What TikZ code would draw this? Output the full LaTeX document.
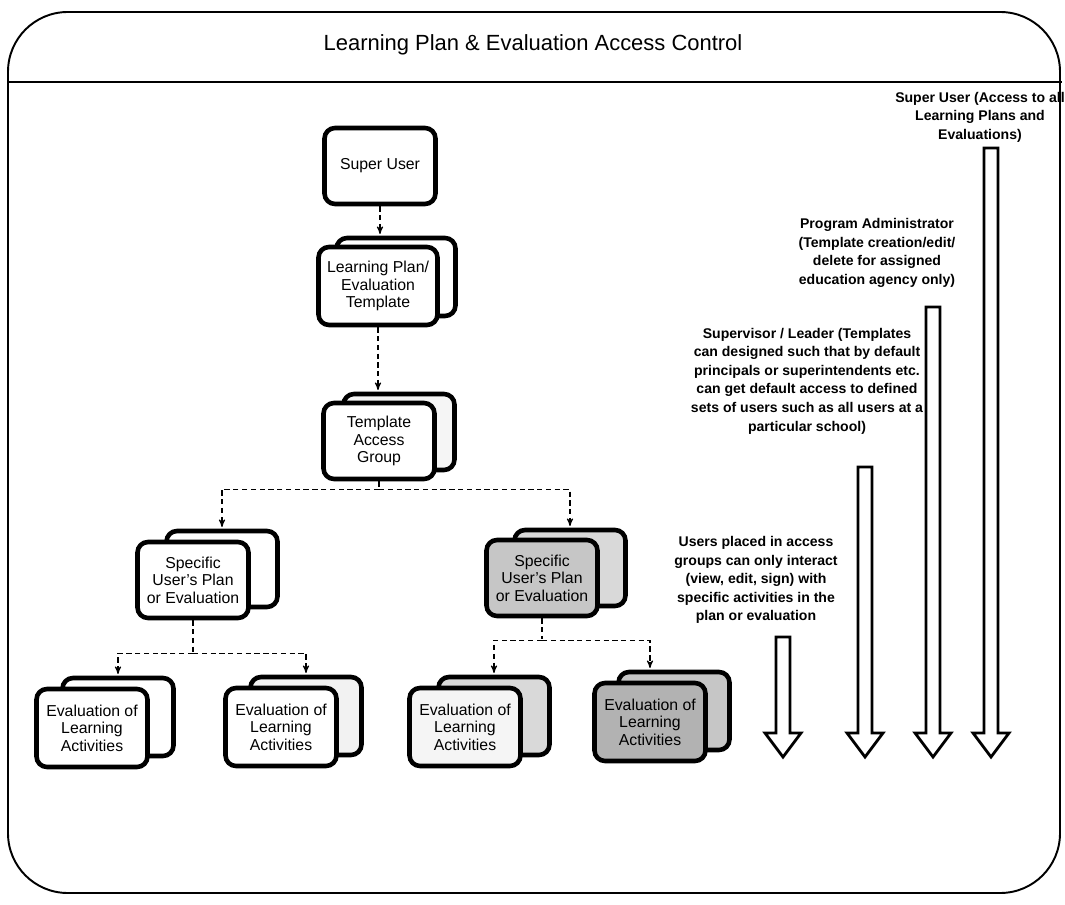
\documentclass[tikz,border=0pt]{standalone}
\usepackage{fontspec}
\setmainfont{Liberation Sans}
\usetikzlibrary{arrows}

\begin{document}
\begin{tikzpicture}[x=0.02cm,y=-0.02cm,>=stealth',
	card/.style={draw,line width=2.6pt,rounded corners=6pt,fill=white,
		minimum width=2.22cm,minimum height=1.52cm,align=center,
		font=\fontsize{9}{10}\selectfont},
	link/.style={densely dashed,line width=0.6pt,shorten >=1pt},
	note/.style={align=center,font=\fontsize{8}{10.6}\selectfont\bfseries},
	bigarrow/.style={draw,line width=1.6pt,fill=white}]
	\useasboundingbox (0,0) rectangle (1065,905);

	% frame and title
	\draw[line width=1.1pt,rounded corners=34pt] (8,12) rectangle (1060,893);
	\draw[line width=1.1pt] (8,82) -- (1062,82);
	\node[font=\fontsize{12.5}{14}\selectfont] (title) at (533,45) {Learning Plan \& Evaluation Access Control};

	\node[card] (super) at (380,166) {Super User};

	\node[card,minimum width=2.38cm,minimum height=1.56cm] (tplb) at (396,277) {};
	\node[card,minimum width=2.38cm,minimum height=1.56cm] (tpl) at (378,286) {Learning Plan/\\Evaluation\\Template};

	\node[card,fill=gray!8] (grpb) at (399,432) {};
	\node[card] (grp) at (379,441) {Template\\Access\\Group};

	\node[card] (specab) at (222,569) {};
	\node[card] (speca) at (193,580) {Specific\\User's Plan\\or Evaluation};

	\node[card,fill=gray!30] (specbb) at (570,568) {};
	\node[card,fill=gray!45] (specb) at (542,578) {Specific\\User's Plan\\or Evaluation};

	\node[card,minimum height=1.56cm] (evalab) at (118,717) {};
	\node[card,minimum height=1.56cm] (evala) at (92,728) {Evaluation of\\Learning\\Activities};

	\node[card,minimum height=1.56cm,fill=gray!10] (evalbb) at (306,716) {};
	\node[card,minimum height=1.56cm] (evalb) at (281,727) {Evaluation of\\Learning\\Activities};

	\node[card,minimum height=1.56cm,fill=gray!30] (evalcb) at (494,716) {};
	\node[card,minimum height=1.56cm,fill=gray!8] (evalc) at (465,727) {Evaluation of\\Learning\\Activities};

	\node[card,minimum height=1.56cm,fill=gray!45] (evaldb) at (674,711) {};
	\node[card,minimum height=1.56cm,fill=gray!60] (evald) at (650,722) {Evaluation of\\Learning\\Activities};

	% dashed links
	\draw[link,->] (super) -- (super |- tplb.north);
	\draw[link,->] (tpl) -- (tpl |- grpb.north);
	\draw[link] (grp.south) -- ++(0,8) coordinate (split);
	\draw[link,->] (split) -| (specab);
	\draw[link,->] (split) -| (specbb);
	\draw[link] (speca.south) -- ++(0,33) coordinate (splita);
	\draw[link,->] (splita) -| (evalab);
	\draw[link,->] (splita) -| (evalbb);
	\draw[link] (specb.south) -- ++(0,22) coordinate (splitb);
	\draw[link,->] (splitb) -| (evalcb);
	\draw[link,->] (splitb) -| (evald |- evaldb.north);

	% access levels
	\node[note] (users) at (756,580) {Users placed in access\\groups can only interact\\(view, edit, sign) with\\specific activities in the\\plan or evaluation};
	\node[note] (leader) at (807,381) {Supervisor / Leader (Templates\\can designed such that by default\\principals or superintendents etc.\\can get default access to defined\\sets of users such as all users at a\\particular school)};
	\node[note] (admin) at (877,253) {Program Administrator\\(Template creation/edit/\\delete for assigned\\education agency only)};
	\node[note] (superall) at (980,117) {Super User (Access to all\\Learning Plans and\\Evaluations)};

	\foreach \x/\top in {783/637,865/467,933/307,991/148}
		\draw[bigarrow] (\x-7,\top) -- (\x+7,\top) -- (\x+7,733) -- (\x+18,733)
			-- (\x,757) -- (\x-18,733) -- (\x-7,733) -- cycle;
\end{tikzpicture}
\end{document}
